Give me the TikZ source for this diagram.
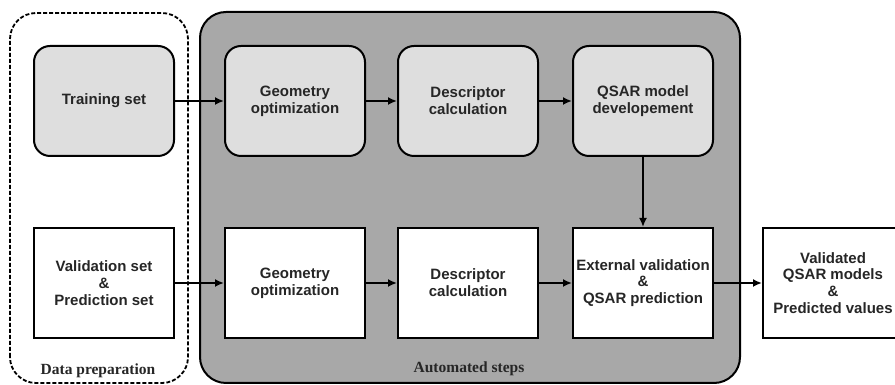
\documentclass[tikz,border=0pt]{standalone}
\usepackage{fontspec}
\setmainfont{Liberation Serif}
\setsansfont{Liberation Sans}
\usetikzlibrary{arrows.meta}
\definecolor{biggray}{RGB}{168,168,168}
\definecolor{lightbox}{RGB}{222,222,222}
\begin{document}
\begin{tikzpicture}[x=1pt,y=1pt,
  stepbox/.style={draw=black, line width=2pt, minimum width=140pt, minimum height=110pt,
    align=center, font=\sffamily\bfseries\fontsize{15}{16.8}\selectfont, text=black!85, inner sep=0pt},
  roundbox/.style={stepbox, fill=lightbox, rounded corners=16pt},
  plainbox/.style={stepbox, fill=white},
  conn/.style={line width=1.8pt, -{Latex[length=9pt,width=8pt]}},
  grouplabel/.style={font=\rmfamily\bfseries\fontsize{15.5}{17}\selectfont, text=black!85, anchor=base}
]
\useasboundingbox (0,0) rectangle (895,385);
\clip (0,0) rectangle (895,385);
% group frames
\draw[line width=1.8pt, dash pattern=on 4pt off 2pt, rounded corners=26pt] (10,2) rectangle (188,372);
\draw[line width=2pt, fill=biggray, rounded corners=26pt] (200,2) rectangle (740,373);
% top row
\node[roundbox] (train) at (104,284) {Training set};
\node[roundbox] (geo1) at (295,284) {Geometry\\optimization};
\node[roundbox] (desc1) at (468,284) {Descriptor\\calculation};
\node[roundbox] (qsar) at (643,284) {QSAR model\\developement};
% bottom row
\node[plainbox] (valid) at (104,102) {Validation set\\\&\\Prediction set};
\node[plainbox] (geo2) at (295,102) {Geometry\\optimization};
\node[plainbox] (desc2) at (468,102) {Descriptor\\calculation};
\node[plainbox] (ext) at (643,102) {External validation\\\&\\QSAR prediction};
\node[plainbox] (out) at (833,102) {Validated\\QSAR models\\\&\\Predicted values};
% connectors
\draw[conn] (train) -- (geo1);
\draw[conn] (geo1) -- (desc1);
\draw[conn] (desc1) -- (qsar);
\draw[conn] (qsar) -- (ext);
\draw[conn] (valid) -- (geo2);
\draw[conn] (geo2) -- (desc2);
\draw[conn] (desc2) -- (ext);
\draw[conn] (ext) -- (out);
% labels
\node[grouplabel] (lprep) at (98,10) {Data preparation};
\node[grouplabel] (lauto) at (469,12) {Automated steps};
\end{tikzpicture}
\end{document}
